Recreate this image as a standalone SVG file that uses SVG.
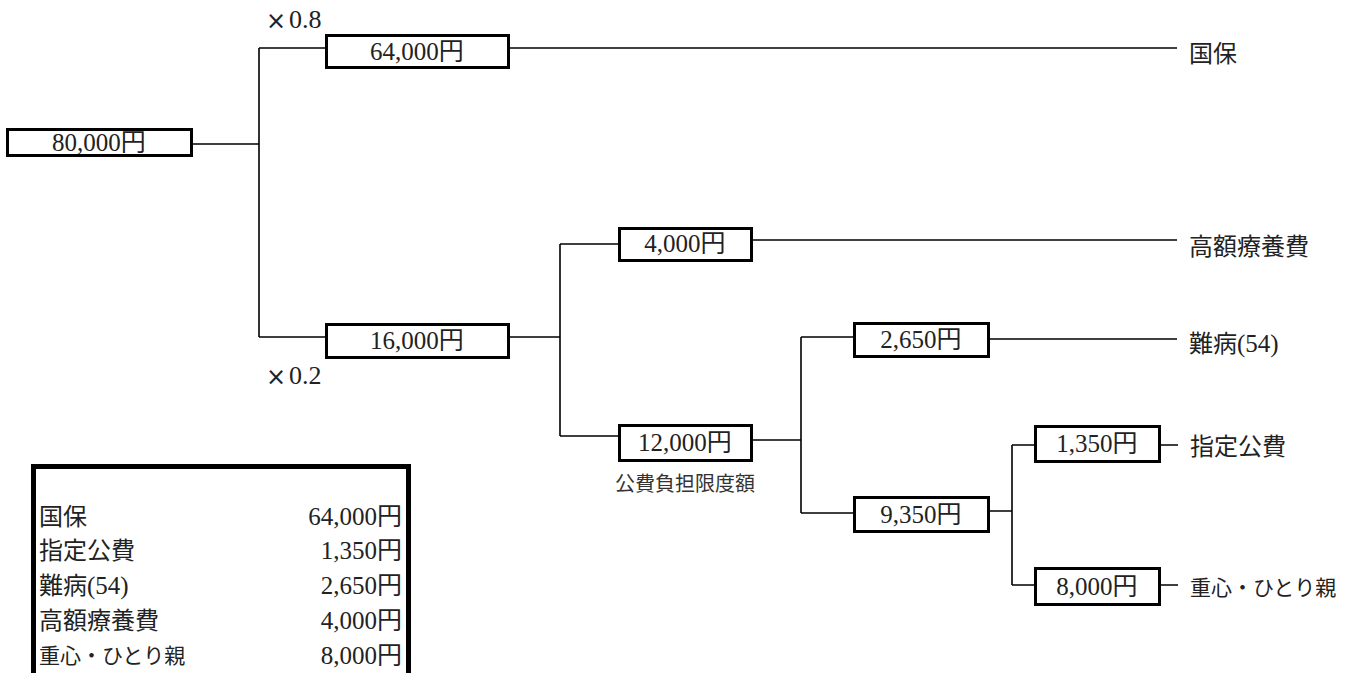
<svg xmlns="http://www.w3.org/2000/svg" width="1349" height="673" viewBox="0 0 1349 673">
<style>
.box{fill:#fff;stroke:#000;stroke-width:3}
.ln{stroke:#000;stroke-width:1.6;fill:none}
.t{font-family:"Liberation Serif","Noto Sans CJK JP",serif;font-size:25px;fill:#222}
.c{text-anchor:middle}
.j{font-family:"Noto Sans CJK JP",sans-serif;font-size:24px;fill:#222}
.k{font-family:"Noto Sans CJK JP",sans-serif;font-size:24px}
.s{font-family:"Noto Sans CJK JP",sans-serif;font-size:20px;fill:#333}
.r{text-anchor:end}
.x{font-family:"DejaVu Sans",sans-serif;font-size:24px;fill:#222}
.h{font-size:21px}
</style>
<rect width="1349" height="673" fill="#fff"/>
<g id="connectors">
<path class="ln" d="M193 144H259M259 48V337M259 48H325M259 337H325"/>
<path class="ln" d="M510 48H1177"/>
<path class="ln" d="M510 337H560M560 244V436M560 244H618M560 436H618"/>
<path class="ln" d="M753 240H1177"/>
<path class="ln" d="M753 440H801M801 337V513M801 337H853M801 513H853"/>
<path class="ln" d="M990 339H1177"/>
<path class="ln" d="M990 511H1012M1012 445V585M1012 445H1035M1012 585H1035"/>
<path class="ln" d="M1161 445H1178M1161 585H1178"/>
</g>
<g id="n80000"><rect class="box" x="7.5" y="129.5" width="184" height="26"/><text class="t c" x="99" y="151">80,000円</text></g>
<g id="n64000"><rect class="box" x="326.5" y="35.5" width="182" height="32"/><text class="t c" x="417" y="60">64,000円</text></g>
<g id="m08"><text class="x" x="266" y="29">×</text><text class="t" x="289" y="28" style="font-size:26px">0.8</text></g>
<g id="n16000"><rect class="box" x="326.5" y="324.5" width="182" height="33"/><text class="t c" x="417" y="349">16,000円</text></g>
<g id="m02"><text class="x" x="266" y="385">×</text><text class="t" x="289" y="384" style="font-size:26px">0.2</text></g>
<g id="n4000"><rect class="box" x="619.5" y="228.5" width="132" height="32"/><text class="t c" x="685" y="252">4,000円</text></g>
<g id="n12000"><rect class="box" x="619.5" y="425.5" width="132" height="35"/><text class="t c" x="685" y="451">12,000円</text><text class="s c" x="685" y="491">公費負担限度額</text></g>
<g id="n2650"><rect class="box" x="854.5" y="323.5" width="134" height="33"/><text class="t c" x="921" y="348">2,650円</text></g>
<g id="n9350"><rect class="box" x="854.5" y="497.5" width="134" height="34"/><text class="t c" x="921" y="523">9,350円</text></g>
<g id="n1350"><rect class="box" x="1035.5" y="426.5" width="124" height="35"/><text class="t c" x="1097" y="452">1,350円</text></g>
<g id="n8000"><rect class="box" x="1035.5" y="568.5" width="124" height="36"/><text class="t c" x="1097" y="595">8,000円</text></g>
<g id="labels">
<text class="j" x="1189" y="62">国保</text>
<text class="j" x="1189" y="255">高額療養費</text>
<text class="t" x="1189" y="352"><tspan class="k">難病</tspan>(54)</text>
<text class="j" x="1190" y="455">指定公費</text>
<text class="j h" x="1190" y="595">重心・ひとり親</text>
</g>
<g id="summary">
<rect x="33.5" y="466.5" width="375" height="220" fill="#fff" stroke="#000" stroke-width="5"/>
<text class="j" x="39" y="525">国保</text>
<text class="j" x="39" y="559">指定公費</text>
<text class="t" x="39" y="594"><tspan class="k">難病</tspan>(54)</text>
<text class="j" x="39" y="629">高額療養費</text>
<text class="j h" x="39" y="663">重心・ひとり親</text>
<text class="t r" x="402" y="525">64,000円</text>
<text class="t r" x="402" y="559">1,350円</text>
<text class="t r" x="402" y="594">2,650円</text>
<text class="t r" x="402" y="629">4,000円</text>
<text class="t r" x="402" y="664">8,000円</text>
</g>
</svg>
